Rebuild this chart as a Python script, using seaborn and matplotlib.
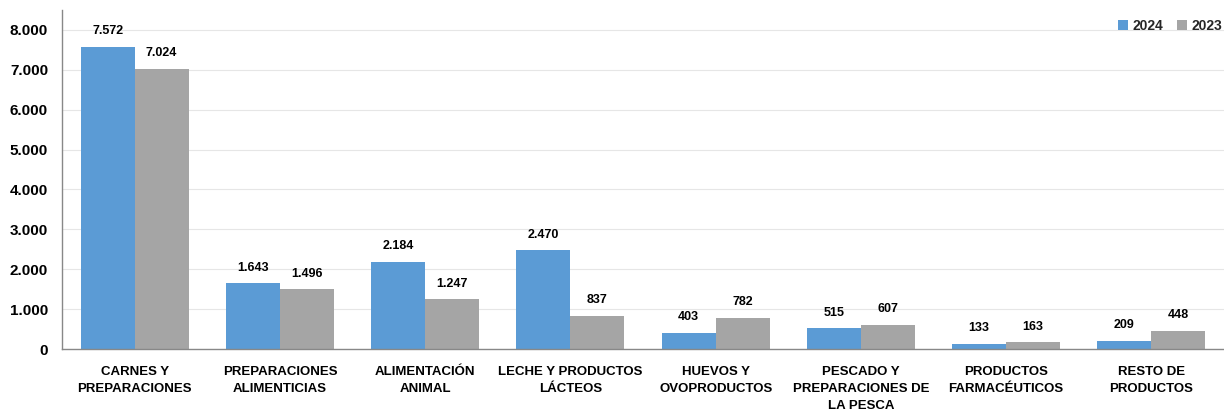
import matplotlib
matplotlib.use("Agg")
import matplotlib.pyplot as plt
import seaborn as sns
import pandas as pd
import numpy as np
from matplotlib.ticker import FuncFormatter, FixedLocator
from matplotlib.patches import Patch

categories = ["CARNES Y\nPREPARACIONES", "PREPARACIONES\nALIMENTICIAS", "ALIMENTACIÓN\nANIMAL",
              "LECHE Y PRODUCTOS\nLÁCTEOS", "HUEVOS Y\nOVOPRODUCTOS",
              "PESCADO Y\nPREPARACIONES DE\nLA PESCA", "PRODUCTOS\nFARMACÉUTICOS", "RESTO DE\nPRODUCTOS"]
values_2024 = [7572, 1643, 2184, 2470, 403, 515, 133, 209]
values_2023 = [7024, 1496, 1247, 837, 782, 607, 163, 448]
series = ["2024", "2023"]
colors = ["#5B9BD5", "#A5A5A5"]

sns.set_theme(style="white")
plt.rcParams['font.family'] = ['Liberation Sans', 'DejaVu Sans']

df = pd.DataFrame({
    "cat": categories * 2,
    "val": values_2024 + values_2023,
    "year": [series[0]] * len(categories) + [series[1]] * len(categories),
})

fig = plt.figure(figsize=(12.24, 4.11), dpi=100)
ax = fig.add_axes([62/1224, 1-349/411, 1-62/1224, (349-10)/411])
sns.barplot(data=df, x="cat", y="val", hue="year", palette=colors, width=0.745,
            ax=ax, legend=False, saturation=1, linewidth=0)

ax.set_ylim(0, 8500)
ax.set_xlim(-0.5, len(categories) - 0.5)
ax.set_yticks(np.arange(0, 8001, 1000))
ax.yaxis.set_major_formatter(FuncFormatter(lambda v, p: f"{int(v):,}".replace(",", ".")))
ax.set_xlabel("")
ax.set_ylabel("")
ax.grid(axis="y", color="#e6e6e6", linewidth=0.8)
ax.set_axisbelow(True)
for s in ["top", "right"]:
    ax.spines[s].set_visible(False)
for s in ["left", "bottom"]:
    ax.spines[s].set_color("#888888")
    ax.spines[s].set_linewidth(1)

ax.tick_params(axis="y", which="major", length=4, color="#888888", direction="out", labelsize=11, pad=6)
ax.tick_params(axis="x", which="major", length=0, labelsize=9.5, pad=12)
ax.xaxis.set_minor_locator(FixedLocator(np.arange(-0.5, len(categories), 1.0)))
ax.tick_params(axis="x", which="minor", length=4, color="#888888", direction="out")
for lbl in ax.get_yticklabels() + ax.get_xticklabels():
    lbl.set_fontweight("bold")
    lbl.set_color("black")
for lbl in ax.get_xticklabels():
    lbl.set_linespacing(1.55)

for cont in ax.containers:
    labels = [f"{int(b.get_height()):,}".replace(",", ".") for b in cont]
    ax.bar_label(cont, labels=labels, padding=7, fontsize=9, fontweight="bold", color="black")

handles = [Patch(facecolor=c, edgecolor="none") for c in colors]
fig.legend(handles, series, loc="upper left", bbox_to_anchor=(1108/1224, 1 - 9/411),
           ncol=2, frameon=False, prop={"weight": "bold", "size": 10},
           handlelength=0.75, handleheight=0.75, handletextpad=0.3, columnspacing=1.0,
           borderpad=0.2)

fig.savefig("out.png", dpi=100)
